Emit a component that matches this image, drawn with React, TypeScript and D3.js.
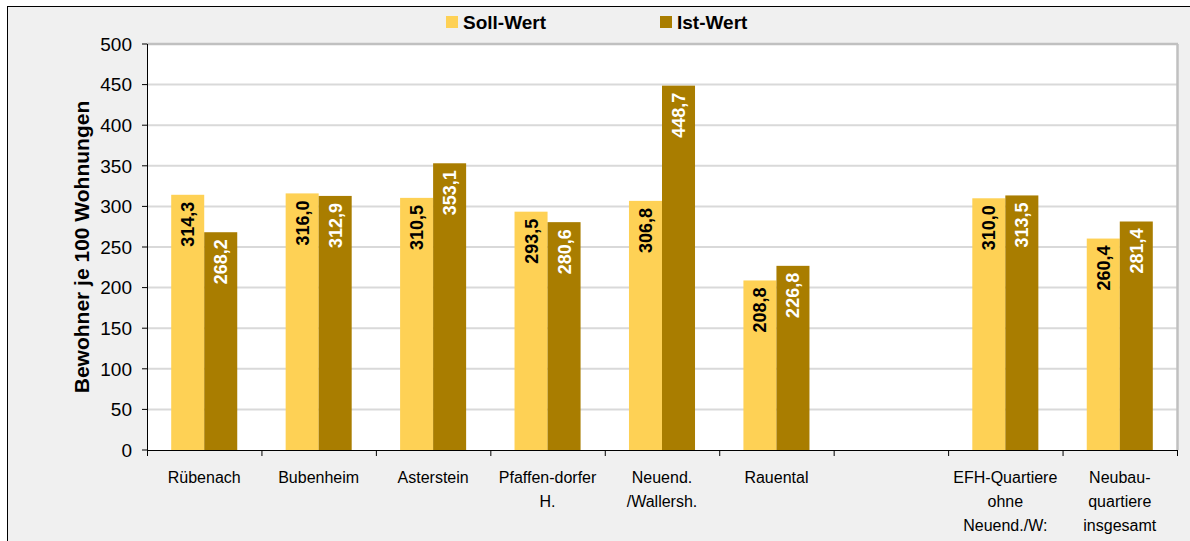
import React from "react";
import * as d3 from "d3";

const categories = [
  "Rübenach",
  "Bubenheim",
  "Asterstein",
  "Pfaffen-dorfer H.",
  "Neuend. /Wallersh.",
  "Rauental",
  "",
  "EFH-Quartiere ohne Neuend./W:",
  "Neubau-quartiere insgesamt",
];
const categoryLines = [
  ["Rübenach"],
  ["Bubenheim"],
  ["Asterstein"],
  ["Pfaffen-dorfer", "H."],
  ["Neuend.", "/Wallersh."],
  ["Rauental"],
  [],
  ["EFH-Quartiere", "ohne", "Neuend./W:"],
  ["Neubau-", "quartiere", "insgesamt"],
];
const sollValues: (number | null)[] = [314.3, 316.0, 310.5, 293.5, 306.8, 208.8, null, 310.0, 260.4];
const istValues: (number | null)[] = [268.2, 312.9, 353.1, 280.6, 448.7, 226.8, null, 313.5, 281.4];
const seriesNames = ["Soll-Wert", "Ist-Wert"];
const seriesColors = ["#FED155", "#A97D00"];
const labelColors = ["#000000", "#FFFFFF"];
const yTicks = [0, 50, 100, 150, 200, 250, 300, 350, 400, 450, 500];

const W = 1190;
const H = 541;
const FONT = "'Liberation Sans', Arial, Helvetica, sans-serif";

export default function App() {
  const left = 147;
  const right = 1177;
  const top = 44;
  const bottom = 450;

  const x = d3.scaleBand<string>().domain(categories.map((c, i) => i + ":" + c)).range([left, right]).padding(0);
  const inner = d3.scaleBand<string>().domain(seriesNames).range([0, x.bandwidth()]).paddingInner(0).paddingOuter(0.733);
  const y = d3.scaleLinear().domain([0, 500]).range([bottom, top]);
  const fmt = (v: number) => d3.format(".1f")(v).replace(".", ",");
  const keys = categories.map((c, i) => i + ":" + c);
  const series = [sollValues, istValues];

  const boundaries = keys.map((k) => x(k) as number).concat([right]);

  return (
    <svg width={W} height={H} style={{ position: "absolute", left: 0, top: 0 }} fontFamily={FONT}>
      <rect x={0} y={0} width={W} height={H} fill="#ffffff" />
      <rect x={7} y={6} width={W - 7} height={H - 6} fill="#F0F0F0" />
      <line x1={7} x2={W} y1={6.5} y2={6.5} stroke="#000" strokeWidth={1} />
      <line x1={7.5} x2={7.5} y1={6} y2={H} stroke="#000" strokeWidth={1} />

      {/* plot area */}
      <rect x={left} y={top} width={right - left} height={bottom - top} fill="#ffffff" />
      {yTicks.filter((t) => t > 0 && t < 500).map((t) => (
        <line key={t} x1={left} x2={right} y1={y(t)} y2={y(t)} stroke="#D9D9D9" strokeWidth={2} />
      ))}
      <line x1={left} x2={right + 1} y1={top} y2={top} stroke="#C0C0C0" strokeWidth={2.5} />
      <line x1={right + 0.5} x2={right + 0.5} y1={top} y2={bottom} stroke="#C0C0C0" strokeWidth={2.5} />

      {/* bars */}
      {series.map((vals, si) =>
        vals.map((v, ci) => {
          if (v == null) return null;
          const bx = (x(keys[ci]) as number) + (inner(seriesNames[si]) as number);
          const by = y(v);
          return (
            <rect key={si + "-" + ci} x={bx} y={by} width={inner.bandwidth()} height={bottom - by} fill={seriesColors[si]} />
          );
        })
      )}

      {/* value labels */}
      {series.map((vals, si) =>
        vals.map((v, ci) => {
          if (v == null) return null;
          const cx = (x(keys[ci]) as number) + (inner(seriesNames[si]) as number) + inner.bandwidth() / 2;
          const ty = y(v) + 7;
          return (
            <text
              key={"l" + si + "-" + ci}
              transform={`translate(${cx},${ty}) rotate(-90)`}
              textAnchor="end"
              dy="0.36em"
              fontSize={18}
              fontWeight="bold"
              fill={labelColors[si]}
            >
              {fmt(v)}
            </text>
          );
        })
      )}

      {/* y axis */}
      <line x1={left + 0.5} x2={left + 0.5} y1={top} y2={bottom} stroke="#000" strokeWidth={1} />
      {yTicks.map((t) => (
        <g key={"yt" + t}>
          <line x1={left - 5} x2={left} y1={y(t)} y2={y(t)} stroke="#000" strokeWidth={1} />
          <text x={132} y={y(t)} dy="0.36em" textAnchor="end" fontSize={19} fill="#000">
            {t}
          </text>
        </g>
      ))}
      <text
        transform={`translate(81,${(top + bottom) / 2}) rotate(-90)`}
        textAnchor="middle"
        dy="0.36em"
        fontSize={21}
        fontWeight="bold"
        fill="#000"
      >
        Bewohner je 100 Wohnungen
      </text>

      {/* x axis */}
      <line x1={left} x2={right + 1} y1={bottom + 0.5} y2={bottom + 0.5} stroke="#000" strokeWidth={1} />
      {boundaries.map((bx, i) => (
        <line key={"xt" + i} x1={bx + 0.5} x2={bx + 0.5} y1={bottom} y2={bottom + 6} stroke="#000" strokeWidth={1} />
      ))}
      {categoryLines.map((lines, ci) => {
        const cx = (x(keys[ci]) as number) + x.bandwidth() / 2;
        return (
          <text key={"xl" + ci} x={cx} textAnchor="middle" fontSize={16} fill="#000">
            {lines.map((ln, li) => (
              <tspan key={li} x={cx} y={483 + li * 24}>
                {ln}
              </tspan>
            ))}
          </text>
        );
      })}

      {/* legend */}
      {seriesNames.map((s, si) => {
        const lx = si === 0 ? 446 : 660;
        return (
          <g key={"lg" + s}>
            <rect x={lx} y={16} width={12} height={12} fill={seriesColors[si]} />
            <text x={lx + 17} y={22} dy="0.36em" fontSize={19} fontWeight="bold" fill="#000">
              {s}
            </text>
          </g>
        );
      })}
    </svg>
  );
}
